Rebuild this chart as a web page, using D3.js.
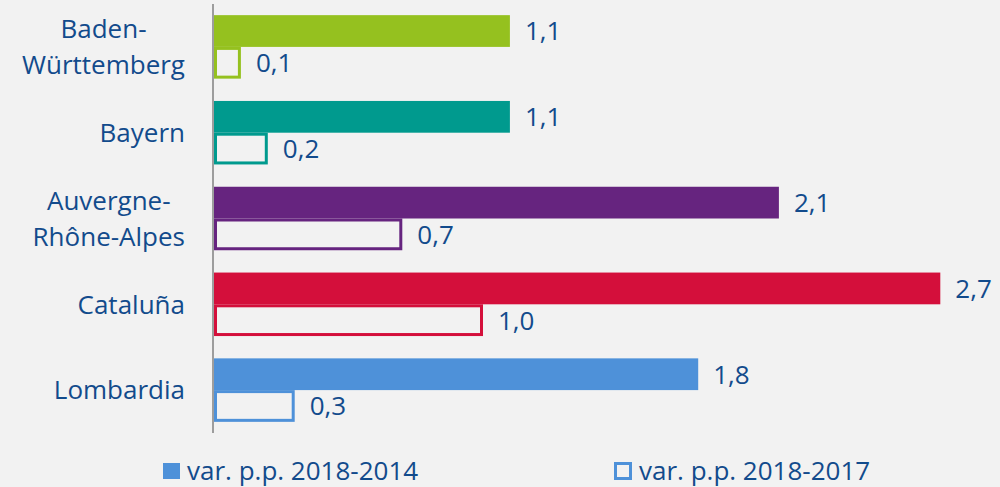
<!DOCTYPE html>
<html><head><meta charset="utf-8">
<script src="https://cdn.jsdelivr.net/npm/d3@7"></script>
<style>html,body{margin:0;padding:0;background:#f2f2f2;}svg{display:block;}</style>
</head><body><svg id="c" width="1000" height="487"></svg>
<script>
const categories = ["Baden-\nWürttemberg","Bayern","Auvergne-\nRhône-Alpes","Cataluña","Lombardia"];
const values2014 = [1.1,1.1,2.1,2.7,1.8];
const values2017 = [0.1,0.2,0.7,1.0,0.3];
const colors = ["#95c11f","#009a8e","#66247f","#d40f3b","#4e91d9"];
const seriesNames = ["var. p.p. 2018-2014","var. p.p. 2018-2017"];
const fmt = v => d3.format(".1f")(v).replace(".", ",");

const svg = d3.select("#c");
const textColor = "#124b8c";
const font = "'Open Sans', sans-serif";
const x0 = 214;
const x = d3.scaleLinear().domain([0,1]).range([x0, x0+269]);
const y = d3.scaleBand().domain(categories).range([4,433]).paddingInner(0.26).paddingOuter(0.13);
const sub = d3.scaleBand().domain([0,1]).range([0,y.bandwidth()]);
const bh = sub.bandwidth();

svg.append("rect").attr("width",1000).attr("height",487).attr("fill","#f2f2f2");

const g = svg.append("g");
categories.forEach((c,i)=>{
  const yy = y(c);
  g.append("rect").attr("x",x(0)).attr("y",yy+sub(0)).attr("width",x(values2014[i])-x(0)).attr("height",bh).attr("fill",colors[i]);
  g.append("rect").attr("x",x(0)+1.5).attr("y",yy+sub(1)+1.5).attr("width",x(values2017[i])-x(0)-3).attr("height",bh-3)
    .attr("fill","#f2f2f2").attr("stroke",colors[i]).attr("stroke-width",3);
  g.append("text").attr("x",x(values2014[i])+15).attr("y",yy+sub(0)+bh/2).attr("dy","0.36em")
    .attr("fill",textColor).attr("font-family",font).attr("font-size",26).text(fmt(values2014[i]));
  g.append("text").attr("x",x(values2017[i])+15).attr("y",yy+sub(1)+bh/2).attr("dy","0.36em")
    .attr("fill",textColor).attr("font-family",font).attr("font-size",26).text(fmt(values2017[i]));
  const lines = c.split("\n");
  const t = svg.append("text").attr("fill",textColor).attr("font-family",font).attr("font-size",26).attr("text-anchor","middle");
  const cy = yy + y.bandwidth()/2;
  const lh = 36;
  const spans = lines.map((l,k)=>t.append("tspan").attr("y", cy + (k-(lines.length-1)/2)*lh).attr("dy","0.36em").text(l));
  let maxW = 0; spans.forEach(s=>{maxW=Math.max(maxW,s.node().getComputedTextLength());});
  spans.forEach(s=>s.attr("x",185-maxW/2));
});

svg.append("line").attr("x1",x(0)-1).attr("x2",x(0)-1).attr("y1",4).attr("y2",433).attr("stroke","#808080").attr("stroke-width",1.5);

const leg = svg.append("g");
leg.append("rect").attr("x",163).attr("y",463).attr("width",17).attr("height",16).attr("fill","#4e91d9");
leg.append("text").attr("x",187).attr("y",471).attr("dy","0.36em").attr("fill",textColor).attr("font-family",font).attr("font-size",26).text(seriesNames[0]);
leg.append("rect").attr("x",615.5).attr("y",463.5).attr("width",15).attr("height",15).attr("fill","#f2f2f2").attr("stroke","#4e91d9").attr("stroke-width",3);
leg.append("text").attr("x",639).attr("y",471).attr("dy","0.36em").attr("fill",textColor).attr("font-family",font).attr("font-size",26).text(seriesNames[1]);
</script></body></html>
